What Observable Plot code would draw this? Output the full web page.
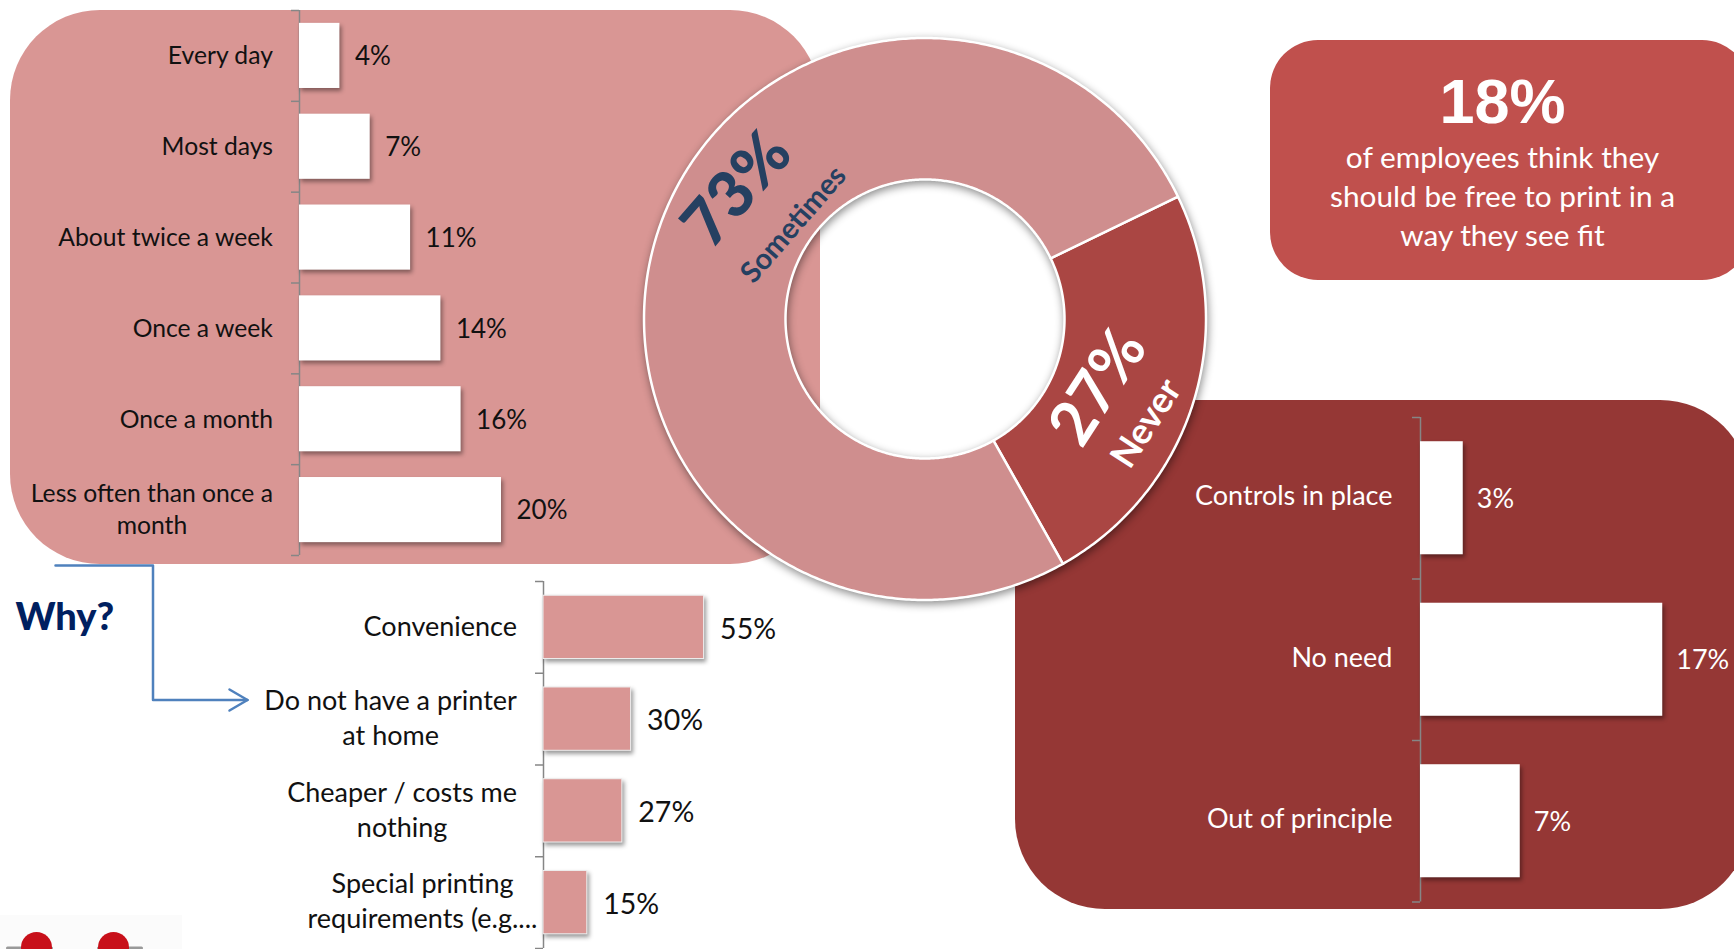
<!DOCTYPE html>
<html><head><meta charset="utf-8">
<script src="https://cdn.jsdelivr.net/npm/d3@7"></script>
<script src="https://cdn.jsdelivr.net/npm/@observablehq/plot@0.6"></script>
<style>
html,body{margin:0;padding:0;background:#fff;overflow:hidden}
#page{position:relative;width:1734px;height:949px;overflow:hidden;font-family:Lato,sans-serif}
#page svg{position:absolute;overflow:visible;background:none;max-width:none}
.panel{position:absolute}
g[aria-label="bar"]{filter:drop-shadow(2px 3px 2px rgba(0,0,0,.4))}
g[aria-label="geo"]{filter:drop-shadow(1px 3px 4px rgba(0,0,0,.45))}
</style></head><body><div id="page"></div>
<script>
// ---- data ----
const frequencyLabels=["Every day","Most days","About twice a week","Once a week","Once a month","Less often than once a\nmonth"];
const frequencyValues=[4,7,11,14,16,20];
const whyLabels=["Convenience","Do not have a printer\nat home","Cheaper / costs me\nnothing","Special printing\nrequirements (e.g...."];
const whyValues=[55,30,27,15];
const neverLabels=["Controls in place","No need","Out of principle"];
const neverValues=[3,17,7];
const donutNames=["Never","Sometimes"];
const donutLabels=["27%","73%"];
const donutDrawnShare=[24,76]; // slice sizes as they appear in the picture
const calloutHead="18%";
const calloutLines=["of employees think they","should be free to print in a","way they see fit"];

const page=document.getElementById("page");
function panel(l,t,w,h,r,c){const d=document.createElement("div");d.className="panel";
 d.style.cssText=`left:${l}px;top:${t}px;width:${w}px;height:${h}px;border-radius:${r}px;background:${c}`;page.append(d);}
function place(svg,l,t){svg.style.left=l+"px";svg.style.top=t+"px";page.append(svg);return svg;}

function barChart({cats,vals,left,top,axisX,width,height,pxPerUnit,barFill,barStroke,textColor,font,valueFont,lineHeight,labelGap,valueGap,pad,labelDy,valueDy,lastLabelGap}){
 const marginLeft=axisX-left, step=height/cats.length, tick=-8/pxPerUnit;
 const rows=cats.map((c,i)=>({c,v:vals[i]}));
 const svg=Plot.plot({width,height,marginLeft,marginRight:0,marginTop:0,marginBottom:0,
  x:{domain:[0,(width-marginLeft)/pxPerUnit],axis:null},
  y:{type:"band",domain:cats,paddingInner:pad,paddingOuter:pad/2,axis:null,round:false},
  style:{background:"none",fontFamily:"Lato,sans-serif"},
  marks:[
   Plot.ruleX([0],{stroke:"#868686",strokeWidth:1.5}),
   Plot.ruleY(cats,{y:d=>d,x1:tick,x2:0,dy:-step/2,stroke:"#868686",strokeWidth:1.5}),
   Plot.ruleY(cats.slice(-1),{y:d=>d,x1:tick,x2:0,dy:step/2,stroke:"#868686",strokeWidth:1.5}),
   Plot.barX(rows,{y:"c",x:"v",fill:barFill,stroke:barStroke,strokeWidth:1}),
   Plot.text(rows,{y:"c",x:0,text:"c",textAnchor:"middle",lineHeight,dy:labelDy,fill:textColor,fontSize:font}),
   Plot.text(rows,{y:"c",x:"v",text:d=>d.v+"%",textAnchor:"start",dx:valueGap,dy:valueDy,fill:textColor,fontSize:valueFont})
  ]});
 place(svg,left,top);
 // multi-line labels are centred on themselves and their block sits against the axis
 const labelGroup=svg.querySelector('g[aria-label="text"]');
 const labelNodes=[...labelGroup.querySelectorAll("text")];
 labelNodes.forEach((node,i)=>{
  const b=node.getBBox();
  const gap=(lastLabelGap!=null&&i===labelNodes.length-1)?lastLabelGap:labelGap;
  const tr=node.getAttribute("transform")||"";
  node.setAttribute("transform",tr+` translate(${-gap-b.width/2},0)`);
 });
 return svg;
}

// top-left panel
panel(10,10,810,554,90,"#D99694");
// bottom-right panel
panel(1015,400,735,509,90,"#953735");
// callout panel
panel(1270,40,480,240,48,"#C0504D");
// pale image patch at the bottom-left
panel(0,915,182,34,0,"#FBFBFB");

barChart({cats:frequencyLabels,vals:frequencyValues,left:10,top:10,axisX:299,width:600,height:545,pxPerUnit:10.1,
 barFill:"#fff",barStroke:"none",textColor:"#111",font:24.7,valueFont:26,lineHeight:1.3,labelGap:26.5,valueGap:15,pad:.283,labelDy:-2,valueDy:1});
barChart({cats:whyLabels,vals:whyValues,left:100,top:581,axisX:543,width:720,height:367,pxPerUnit:2.92,
 barFill:"#D99694",barStroke:"#eee",textColor:"#111",font:27,valueFont:28.5,lineHeight:1.3,labelGap:26.5,lastLabelGap:6,valueGap:16,pad:.31,labelDy:-3,valueDy:2});
barChart({cats:neverLabels,vals:neverValues,left:1040,top:417,axisX:1420,width:694,height:484.5,pxPerUnit:14.25,
 barFill:"#fff",barStroke:"none",textColor:"#fff",font:27,valueFont:27,lineHeight:1.3,labelGap:28,valueGap:13.5,pad:.3,labelDy:-4,valueDy:1});

// donut
const cx=924.5,cy=318.5,R0=139.5,R1=281,a0=64.2;
const pie=d3.pie().sort(null).startAngle(a0*Math.PI/180).endAngle((a0+360)*Math.PI/180)(donutDrawnShare);
function ring(p,i){
 const n=Math.ceil((p.endAngle-p.startAngle)/0.01),pts=[];
 for(let k=0;k<=n;k++){const a=p.startAngle+(p.endAngle-p.startAngle)*k/n;pts.push([cx+R1*Math.sin(a),cy-R1*Math.cos(a)]);}
 for(let k=n;k>=0;k--){const a=p.startAngle+(p.endAngle-p.startAngle)*k/n;pts.push([cx+R0*Math.sin(a),cy-R0*Math.cos(a)]);}
 pts.push(pts[0]);
 return {type:"Feature",properties:{name:donutNames[i]},geometry:{type:"Polygon",coordinates:[pts]}};
}
const W=1734,H=949;
const connector=[{x:55,y:565,s:"a"},{x:152.5,y:565,s:"a"},{x:152.5,y:699.5,s:"a"},{x:247,y:699.5,s:"a"},
 {x:229,y:689,s:"b"},{x:247,y:699.5,s:"b"},{x:229,y:710,s:"b"}];
const icon=[{x:36,y:947},{x:113,y:947}];
const iconStubs=[{x:7,y:947.5,s:"a"},{x:51,y:947.5,s:"a"},{x:98,y:947.5,s:"b"},{x:141,y:947.5,s:"b"}];
place(Plot.plot({width:W,height:H,margin:0,
 x:{type:"identity"},y:{type:"identity"},
 color:{domain:donutNames,range:["#AA4643","#CF8E8E"]},
 projection:{type:"identity"},
 style:{background:"none",fontFamily:"Lato,sans-serif"},
 marks:[
  Plot.line(iconStubs,{x:"x",y:"y",z:"s",stroke:"#999",strokeWidth:3}),
  Plot.dot(icon,{x:"x",y:"y",r:15.5,fill:"#C8101A"}),
  Plot.line(connector,{x:"x",y:"y",z:"s",stroke:"#4F81BD",strokeWidth:2.5,curve:"linear"}),
  Plot.text(["Why?"],{x:15,y:617,text:d=>d,textAnchor:"start",fontSize:38,fontWeight:900,fill:"#002060"}),
  Plot.geo(pie.map(ring),{fill:d=>d.properties.name,stroke:"#fff",strokeWidth:2.5}),
  Plot.text([donutLabels[0]],{x:1098,y:387,text:d=>d,rotate:-57,fontSize:62,fontWeight:700,fill:"#fff"}),
  Plot.text([donutNames[0]],{x:1146,y:423,text:d=>d,rotate:-57,fontSize:36,fontWeight:700,fill:"#fff"}),
  Plot.text([donutLabels[1]],{x:737,y:189,text:d=>d,rotate:-49,fontSize:64,fontWeight:900,fill:"#254061"}),
  Plot.text([donutNames[1]],{x:793,y:224,text:d=>d,rotate:-49,fontSize:29,fontWeight:700,fill:"#254061"}),
  Plot.text([calloutHead],{x:1502,y:102,text:d=>d,fontSize:63,fontWeight:700,fontFamily:"Liberation Sans",fill:"#fff"}),
  Plot.text(calloutLines,{x:1502,y:(d,i)=>158+39*i,text:d=>d,fontSize:29.8,fill:"#fff"})
 ]}),0,0);
</script></body></html>
